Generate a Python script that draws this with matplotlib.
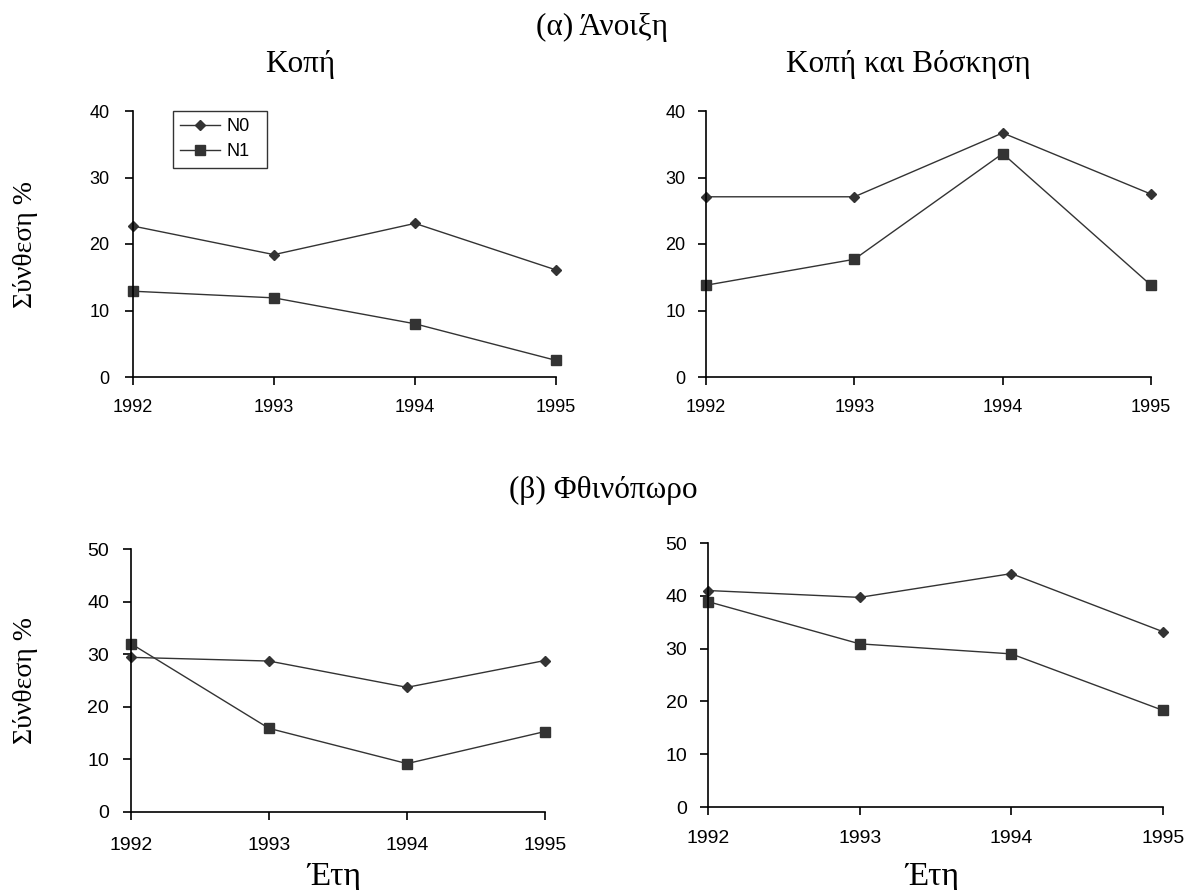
import matplotlib
matplotlib.use('Agg')
import matplotlib.pyplot as plt

years = [1992, 1993, 1994, 1995]

# (α) Άνοιξη
spring_cut_n0 = [22.7, 18.4, 23.1, 16.1]
spring_cut_n1 = [12.9, 11.9, 8.0, 2.5]
spring_graze_n0 = [27.1, 27.1, 36.7, 27.5]
spring_graze_n1 = [13.8, 17.7, 33.6, 13.8]

# (β) Φθινόπωρο
autumn_cut_n0 = [29.4, 28.7, 23.7, 28.8]
autumn_cut_n1 = [32.0, 15.9, 9.2, 15.3]
autumn_graze_n0 = [41.0, 39.7, 44.2, 33.2]
autumn_graze_n1 = [38.9, 30.9, 29.0, 18.3]

series_labels = ['N0', 'N1']
top_yticks = [0, 10, 20, 30, 40]
bottom_yticks = [0, 10, 20, 30, 40, 50]

W, H = 1192, 890
fig = plt.figure(figsize=(W / 100, H / 100), dpi=100)

sans = 'Liberation Sans'
serif = 'Liberation Serif'
line_col = '#333333'


def add_axes(x0, x1, ytop, ybot):
    # pixel box -> figure fractions
    return fig.add_axes([x0 / W, 1 - ybot / H, (x1 - x0) / W, (ybot - ytop) / H])


def draw(ax, n0, n1, yticks, fs, ypad, xpad):
    ax.plot(years, n0, color=line_col, lw=1.0, marker='D', ms=5,
            mfc=line_col, mec=line_col, clip_on=False, label=series_labels[0])
    ax.plot(years, n1, color=line_col, lw=1.0, marker='s', ms=7,
            mfc=line_col, mec=line_col, clip_on=False, label=series_labels[1])
    ax.set_xlim(years[0], years[-1])
    ax.set_ylim(yticks[0], yticks[-1])
    ax.set_xticks(years)
    ax.set_yticks(yticks)
    for s in ['top', 'right']:
        ax.spines[s].set_visible(False)
    for s in ['left', 'bottom']:
        ax.spines[s].set_linewidth(1.2)
    ax.tick_params(axis='both', direction='out', length=5.8, width=1.2,
                   colors='black', labelsize=fs)
    ax.tick_params(axis='y', pad=ypad)
    ax.tick_params(axis='x', pad=xpad)
    for lab in ax.get_xticklabels() + ax.get_yticklabels():
        lab.set_fontfamily(sans)


ax1 = add_axes(133, 556, 111, 377)
draw(ax1, spring_cut_n0, spring_cut_n1, top_yticks, 13, 11, 10)
ax2 = add_axes(706, 1151, 111, 377)
draw(ax2, spring_graze_n0, spring_graze_n1, top_yticks, 13, 9, 10)
ax3 = add_axes(131, 545, 549, 812)
draw(ax3, autumn_cut_n0, autumn_cut_n1, bottom_yticks, 14, 10, 12)
ax4 = add_axes(708, 1163, 543, 807)
draw(ax4, autumn_graze_n0, autumn_graze_n1, bottom_yticks, 14, 9, 11)

leg = ax1.legend(loc='upper left',
                 bbox_to_anchor=(173 / W, 1 - 166 / H, 94 / W, 55 / H),
                 bbox_transform=fig.transFigure, borderaxespad=0, mode='expand',
                 prop={'family': sans, 'size': 13}, frameon=True, fancybox=False,
                 edgecolor='black', handlelength=2.2, handletextpad=0.35,
                 labelspacing=0.45, borderpad=0.4)
leg.get_frame().set_linewidth(1.0)


def ftext(x, y, s, size=22.5, **kw):
    fig.text(x / W, 1 - y / H, s, family=serif, size=size, ha='center', **kw)


ftext(602, 35, '(α) Άνοιξη', va='baseline')
ftext(300, 72, 'Κοπή', va='baseline')
ftext(908, 72, 'Κοπή και Βόσκηση', va='baseline')
ftext(603, 498, '(β) Φθινόπωρο', va='baseline')
ftext(26, 244, 'Σύνθεση %', size=20, rotation=90, va='center')
ftext(26, 680, 'Σύνθεση %', size=20, rotation=90, va='center')
ftext(334, 885, 'Έτη', size=24, va='baseline')
ftext(932, 885, 'Έτη', size=24, va='baseline')

fig.savefig('out.png', dpi=100, facecolor='white')
